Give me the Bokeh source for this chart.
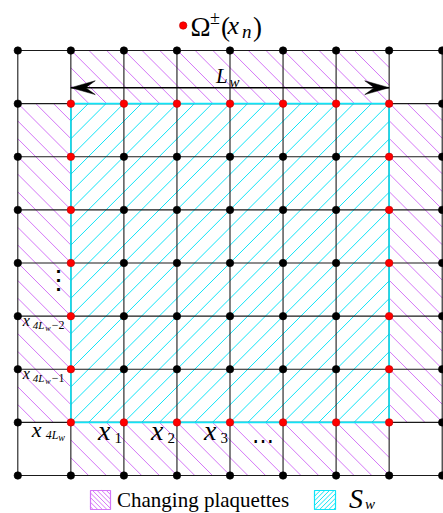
import numpy as np
from bokeh.plotting import figure
from bokeh.models import ColumnDataSource, Range1d
from bokeh.core.properties import value
from bokeh.embed import file_html
from bokeh.resources import INLINE

# ---------------- data ----------------
N_SITES = 9
cols = list(range(N_SITES))
rows = list(range(N_SITES))
SW_LO, SW_HI = 1, 7          # the region S_w spans [1,7] x [1,7]
# changing plaquette strips: left, right, bottom, top
strip_l = [1, 1, 0, 7]
strip_r = [7, 7, 1, 8]
strip_b = [7, 0, 1, 1]
strip_t = [8, 1, 7, 7]
# site labels along the boundary of S_w
bottom_lab_cols = [2, 3, 4]
bottom_lab_subs = ["1", "2", "3"]
hdots_col = 5
left_lab_rows = [1, 2, 3]
left_lab_tails = ["", "−1", "−2"]
vdots_row = 4
legend_text = "Changing plaquettes"

# ---------------- layout / style ----------------
W, H = 443, 513
PX, PY = 53.05, 53.125
OX, OY = 17.3, 50.0           # pixel position of column 0 / row 8
PURPLE = "#d476f7"
CYAN = "#10e4f7"
FONT = "Liberation Serif"
MID = 0.3375                  # em-box middle above the baseline


def X(rx):
    return (rx - OX) / PX


def Y(ry):
    return 8 - (ry - OY) / PY


p = figure(width=W, height=H, output_backend="svg", toolbar_location=None,
           x_axis_type=None, y_axis_type=None, min_border=0,
           x_range=Range1d(-OX / PX, (W - OX) / PX),
           y_range=Range1d(8 - (H - OY) / PY, 8 + OY / PY))
p.outline_line_color = None
p.background_fill_color = "white"
p.border_fill_color = "white"


def hatch_lines(ls, rs, bs, ts, step, kind):
    """45 degree hatch lines clipped to rectangles (kind '\\' or '/')."""
    mx, my = [], []
    for l, r, b, t in zip(ls, rs, bs, ts):
        if kind == "\\":      # x + y = c
            c = np.floor((l + b) / step) * step
            while c <= r + t:
                x0, x1 = max(l, c - t), min(r, c - b)
                if x1 > x0:
                    mx.append([x0, x1]); my.append([c - x0, c - x1])
                c += step
        else:                 # y - x = c
            c = np.floor((b - r) / step) * step
            while c <= t - l:
                x0, x1 = max(l, b - c), min(r, t - c)
                if x1 > x0:
                    mx.append([x0, x1]); my.append([x0 + c, x1 + c])
                c += step
    return mx, my


# hatched regions
hx, hy = hatch_lines(strip_l, strip_r, strip_b, strip_t, 17.7 / PX, "\\")
p.multi_line(hx, hy, line_color=PURPLE, line_width=1.0)
hx, hy = hatch_lines([SW_LO], [SW_HI], [SW_LO], [SW_HI], 17.7 / PX, "/")
p.multi_line(hx, hy, line_color=CYAN, line_width=1.0)

# lattice lines
lo, hi = cols[0], cols[-1]
p.segment(x0=[lo] * len(rows), x1=[hi] * len(rows), y0=rows, y1=rows,
          line_color="#1a1a1a", line_width=1.1)
p.segment(x0=cols, x1=cols, y0=[lo] * len(cols), y1=[hi] * len(cols),
          line_color="#1a1a1a", line_width=1.1)

# S_w outline
p.quad(left=[SW_LO], right=[SW_HI], bottom=[SW_LO], top=[SW_HI],
       fill_color=None, line_color=CYAN, line_width=1.6)

# L_w arrow
ay = SW_HI + 0.3
p.segment(x0=[SW_LO], x1=[SW_HI], y0=[ay], y1=[ay], line_color="black", line_width=1.4)
hl, hw, notch = 0.46, 0.13, 0.28
ax, ayy = [], []
for tip, d in ((SW_LO, 1), (SW_HI, -1)):
    ax.append([tip, tip + d * hl, tip + d * notch, tip + d * hl])
    ayy.append([ay, ay + hw, ay, ay - hw])
p.patches(ax, ayy, fill_color="black", line_color="black", line_width=0.5)

# lattice sites
xs, ys, cs, ls = [], [], [], []
for i in cols:
    for j in rows:
        on_b = (SW_LO <= i <= SW_HI and j in (SW_LO, SW_HI)) or \
               (SW_LO <= j <= SW_HI and i in (SW_LO, SW_HI))
        xs.append(i)
        ys.append(j)
        cs.append("#ff0000" if on_b else "black")
        ls.append("#c00000" if on_b else "black")
p.scatter(xs, ys, size=7.5, fill_color=cs, line_color=ls, line_width=0.6)


def txt(items, size, style="normal", align="left", baseline="alphabetic", font=FONT):
    # items give the alphabetic baseline; drawn with a "middle" baseline
    shift = -MID * size if baseline == "alphabetic" else 0.0
    src = ColumnDataSource(dict(
        x=[it[0] for it in items], y=[it[1] for it in items],
        dx=[it[2] for it in items], dy=[it[3] + shift for it in items],
        t=[it[4] for it in items]))
    p.text("x", "y", text="t", x_offset="dx", y_offset="dy", source=src,
           text_font=value(font), text_font_size=value(f"{size}px"),
           text_font_style=style, text_align=align, text_baseline="middle",
           text_color="black")


# top legend
p.scatter([X(182.7)], [Y(25)], size=7.5, fill_color="#ff0000", line_color="#c00000",
          line_width=0.6)
txt([(X(190), Y(36), 0, 0, "Ω"), (X(220.5), Y(36), 0, 0, "("),
     (X(252.5), Y(36), 0, 0, ")")], 27)
txt([(X(209.5), Y(23.5), 0, 0, "±")], 18)
txt([(X(227), Y(33.5), 0, 0, "x")], 26, "italic")
txt([(X(241.5), Y(37), 0, 0, "n")], 19, "italic")

# L_w
txt([(X(215.5), Y(83), 0, 0, "L")], 21, "italic")
txt([(X(229), Y(86.5), 0, 0, "w")], 15, "italic")

# bottom site labels
txt([(c, SW_LO, -26, 18, "x") for c in bottom_lab_cols], 28, "italic")
txt([(c, SW_LO, -9.5, 21, s) for c, s in zip(bottom_lab_cols, bottom_lab_subs)], 15)
txt([(hdots_col, SW_LO, -20.2, 18, "⋯")], 22, align="center", baseline="middle",
    font="DejaVu Serif")

# left site labels
big = [r for r, t in zip(left_lab_rows, left_lab_tails) if t == ""]
small = [(r, t) for r, t in zip(left_lab_rows, left_lab_tails) if t != ""]
txt([(SW_LO, r, -39, 14.5, "x") for r in big], 22, "italic")
txt([(SW_LO, r, -25, 16.5, "4L") for r in big], 12, "italic")
txt([(SW_LO, r, -12.5, 18.5, "w") for r in big], 10, "italic")
txt([(SW_LO, r, -48, 10, "x") for r, t in small], 16, "italic")
txt([(SW_LO, r, -38, 12.5, "4L") for r, t in small], 11, "italic")
txt([(SW_LO, r, -25.5, 15, "w") for r, t in small], 8, "italic")
txt([(SW_LO, r, -19, 12.5, t) for r, t in small], 12)
txt([(SW_LO, vdots_row, -12.3, 16, "⋮")], 27, align="center", baseline="middle",
    font="DejaVu Serif")

# bottom legend
for (l, r, col, kind) in ((90, 110, PURPLE, "\\"), (314, 335, CYAN, "/")):
    hx, hy = hatch_lines([X(l)], [X(r)], [Y(509)], [Y(490)], 4.6 / PX, kind)
    p.multi_line(hx, hy, line_color=col, line_width=1.0)
    p.quad(left=[X(l)], right=[X(r)], bottom=[Y(509)], top=[Y(490)],
           fill_color=None, line_color=col, line_width=1.2)
txt([(X(116.5), Y(507), 0, 0, legend_text)], 21)
txt([(X(348.5), Y(507), 0, 0, "S")], 28, "italic")
txt([(X(364.5), Y(508.5), 0, 0, "w")], 15, "italic")

open("out.html", "w").write(file_html(p, INLINE))
